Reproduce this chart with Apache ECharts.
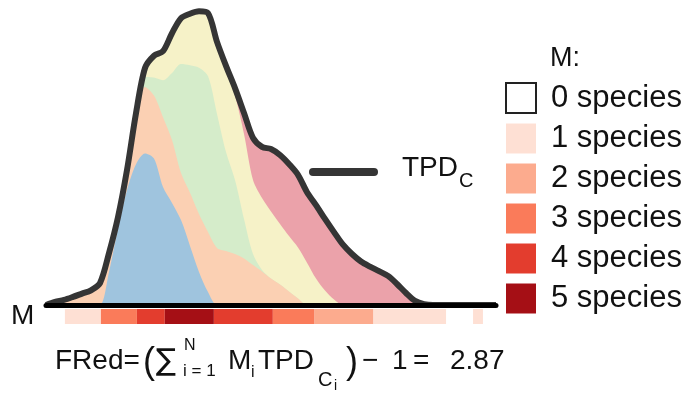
<!DOCTYPE html>
<html>
<head>
<meta charset="utf-8">
<title>TPD functional redundancy</title>
<script src="https://cdn.jsdelivr.net/npm/echarts@6.0.0/dist/echarts.min.js"></script>
<style>
  html, body { margin: 0; padding: 0; background: #fff; }
  #chart { width: 695px; height: 396px; }
</style>
</head>
<body>
<div id="chart"></div>
<script>
// trait axis positions (shared by every layer)
var traitX = [0, 2, 4, 6, 8, 10, 12, 14, 16, 18, 20, 22, 24, 26, 28, 30, 32, 34, 36, 38, 40,
  42, 44, 46, 48, 50, 52, 54, 56, 58, 60, 62, 64, 66, 68, 70, 72, 74, 76, 78, 80,
  82, 84, 86, 88, 90, 92, 94, 96, 98, 100];

// species densities, bottom layer first
var blueSp = [0, 0, 0, 0, 0, 0, 0, 11, 25.5, 38.3, 46.9, 50.5, 48.8, 39.3, 34, 28.3, 19.7, 11, 4.3, 0, 0,
  0, 0, 0, 0, 0, 0, 0, 0, 0, 0, 0, 0, 0, 0, 0, 0, 0, 0, 0, 0,
  0, 0, 0, 0, 0, 0, 0, 0, 0, 0];
var peachSp = [0, 1.0, 1.7, 2.7, 3.8, 4.9, 7.3, 6.3, 3.8, 6.7, 17, 22.2, 21, 23.3, 21, 15.7, 17.7, 19.3, 20, 19, 18,
  17, 15.5, 13.3, 11.2, 8.8, 6.8, 4.5, 2.2, 0, 0, 0, 0, 0, 0, 0, 0, 0, 0, 0, 0,
  0, 0, 0, 0, 0, 0, 0, 0, 0, 0];
var greenSp = [0, 0, 0, 0, 0, 0, 0, 0, 0, 0, 0, 3.3, 6, 12.3, 22.3, 36.3, 42.5, 48.8, 52, 44.7, 33,
  24.7, 13.2, 3.7, 0.5, 0, 0, 0, 0, 0, 0, 0, 0, 0, 0, 0, 0, 0, 0, 0, 0,
  0, 0, 0, 0, 0, 0, 0, 0, 0, 0];
var yellowSp = [0, 0, 0, 0, 0, 0, 0, 0, 0, 0, 0, 3, 7.3, 9.7, 13.3, 15.3, 17.2, 18.8, 21, 24, 27.7,
  28.1, 28.3, 24.7, 24, 22.4, 20.2, 18.5, 17, 14.1, 8.8, 4.8, 1.8, 0, 0, 0, 0, 0, 0, 0, 0,
  0, 0, 0, 0, 0, 0, 0, 0, 0, 0];
var pinkSp = [0, 0, 0, 0, 0, 0, 0, 0, 0, 0, 0, 0, 0, 0, 0, 0, 0, 0, 0, 0, 1,
  2.5, 7, 14, 17, 20.8, 23, 24, 24.2, 23.5, 24.5, 23.9, 22.5, 20.1, 17, 14.5, 12.8, 11.3, 9.7, 7, 4,
  1.4, 0.3, 0, 0, 0, 0, 0, 0, 0, 0];

// M strip: segments along the trait axis and how many species overlap there
var stripStart = [4.2, 12.2, 20.2, 26.4, 37.3, 50.4, 59.6, 72.7, 94.9];
var stripEnd = [12.2, 20.2, 26.4, 37.3, 50.4, 59.6, 72.7, 88.9, 97.1];
var stripLevel = [1, 3, 4, 5, 4, 3, 2, 1, 1];

var levelNames = ['0 species', '1 species', '2 species', '3 species', '4 species', '5 species'];
var levelColors = ['#ffffff', '#fee0d4', '#fcab8e', '#fa7b5a', '#e33d2e', '#a50f15'];
var layerColors = ['#9fc4de', '#fbd0b3', '#d5ecca', '#f6f2c8', '#eba2aa'];

var FONT = 'Liberation Sans, Arial, sans-serif';
var chart = echarts.init(document.getElementById('chart'));

// running totals: layer i is filled from 0 up to the sum of layers 0..i,
// then drawn top-down so the lower layers cover the upper ones
var layers = [blueSp, peachSp, greenSp, yellowSp, pinkSp];
var cum = [];
layers.forEach(function (vals, li) {
  cum.push(vals.map(function (v, i) { return li ? cum[li - 1][i] + v : v; }));
});

function pairs(vals) {
  return traitX.map(function (x, i) { return [x, +vals[i].toFixed(2)]; });
}

function areaLayer(vals, color) {
  return {
    type: 'line',
    data: pairs(vals),
    smooth: 0.3,
    symbol: 'none',
    silent: true,
    areaStyle: { color: color, opacity: 1 },
    lineStyle: { width: 0 }
  };
}

function stripRect(params, api) {
  var p0 = api.coord([api.value(0), 1]);
  var p1 = api.coord([api.value(1), 0]);
  return {
    type: 'rect',
    shape: { x: p0[0], y: p0[1], width: p1[0] - p0[0], height: p1[1] - p0[1] },
    style: { fill: api.visual('color') }
  };
}

var series = [];
for (var li = layers.length - 1; li >= 0; li--) {
  series.push(areaLayer(cum[li], layerColors[li]));
}
// TPD_C outline = the total
series.push({
  type: 'line',
  data: pairs(cum[layers.length - 1]),
  smooth: 0.3,
  symbol: 'none',
  silent: true,
  clip: false,
  lineStyle: { width: 6, color: '#353535', join: 'round' }
});

// one custom series per M level so the legend can list them
levelNames.forEach(function (name, lvl) {
  var segs = [];
  stripLevel.forEach(function (l, i) {
    if (l === lvl) segs.push([stripStart[i], stripEnd[i]]);
  });
  series.push({
    type: 'custom',
    name: name,
    xAxisIndex: 1,
    yAxisIndex: 1,
    renderItem: stripRect,
    itemStyle: { color: levelColors[lvl] },
    data: segs,
    silent: true
  });
});

function txt(text, x, y, size, family) {
  return {
    type: 'text', x: x, y: y, silent: true,
    style: { text: text, font: size + 'px ' + (family || FONT), fill: '#111', align: 'left', verticalAlign: 'middle' }
  };
}

chart.setOption({
  animation: false,
  grid: [
    { left: 46, right: 199, top: 5, bottom: 91 },
    { left: 46, width: 450, top: 309, height: 15 }
  ],
  xAxis: [
    {
      type: 'value', gridIndex: 0, min: 0, max: 100, z: 5,
      axisLine: { show: true, lineStyle: { color: '#000', width: 5 } },
      axisTick: { show: false }, axisLabel: { show: false }, splitLine: { show: false }
    },
    { type: 'value', gridIndex: 1, min: 0, max: 100, show: false }
  ],
  yAxis: [
    { type: 'value', gridIndex: 0, min: 0, max: 100, show: false },
    { type: 'value', gridIndex: 1, min: 0, max: 1, show: false }
  ],
  legend: {
    orient: 'vertical',
    left: 505,
    top: 82,
    padding: 0,
    icon: 'rect',
    itemWidth: 30,
    itemHeight: 30,
    itemGap: 9,
    selectedMode: false,
    itemStyle: { borderWidth: 0 },
    textStyle: { fontSize: 31, fontFamily: FONT, color: '#111', lineHeight: 30, padding: [0, 0, 0, 10] },
    data: [{ name: levelNames[0], itemStyle: { color: '#fff', borderColor: '#222', borderWidth: 2 } }]
      .concat(levelNames.slice(1))
  },
  graphic: [
    txt('M:', 550, 59, 27),
    txt('M', 11, 316, 28),
    // TPD_C key
    { type: 'line', silent: true, shape: { x1: 313, y1: 172, x2: 374, y2: 172 },
      style: { stroke: '#353535', lineWidth: 8, lineCap: 'round' } },
    txt('TPD', 402, 168, 28),
    txt('C', 459, 181, 20),
    // FRed formula
    txt('FRed=', 55, 361, 28),
    txt('(', 143, 363, 36),
    txt('\u2211', 156, 362, 30, 'DejaVu Sans'),
    txt('N', 184, 346, 16),
    txt('i = 1', 183, 371, 17),
    txt('M', 228, 361, 28),
    txt('i', 251, 373, 16),
    txt('TPD', 258, 361, 28),
    txt('C', 318, 380, 20),
    txt('i', 334, 386, 14),
    txt(')', 346, 363, 36),
    txt('\u2212', 362, 361, 28),
    txt('1', 392, 361, 28),
    txt('=', 413, 361, 28),
    txt('2.87', 450, 361, 28)
  ],
  series: series
});
</script>
</body>
</html>
